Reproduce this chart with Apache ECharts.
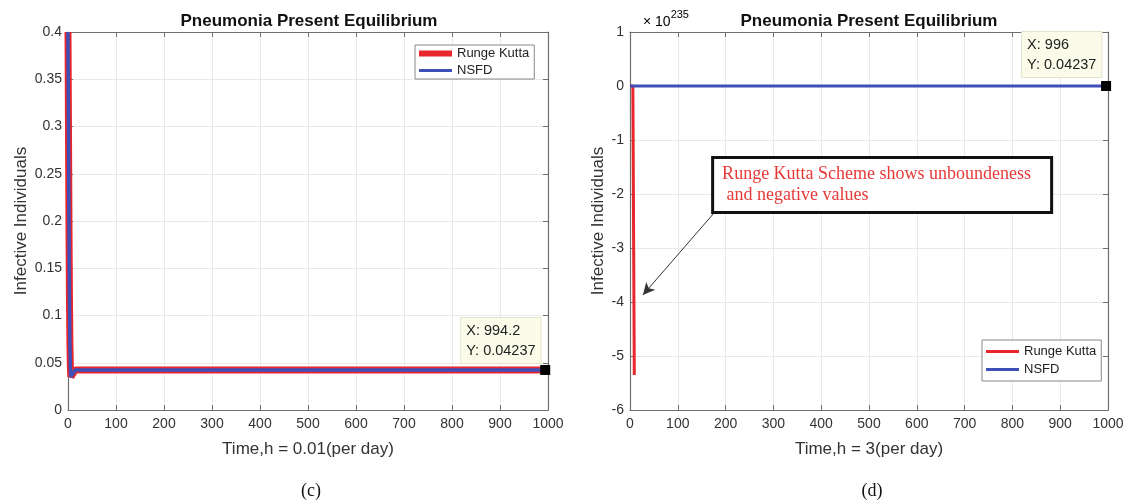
<!DOCTYPE html>
<html>
<head>
<meta charset="utf-8">
<script src="https://cdn.jsdelivr.net/npm/echarts@6/dist/echarts.min.js"></script>
<style>
html,body{margin:0;padding:0;background:#fff;}
#chart{width:1130px;height:502px;}
</style>
</head>
<body>
<div id="chart"></div>
<script>
// ----- Panel (c): h = 0.01 -----
const timeC = [0, 1, 2, 3, 4, 5, 6, 8, 11, 15, 994.2];
const rkC   = [0.4, 0.3, 0.2, 0.12, 0.07, 0.045, 0.035, 0.034, 0.039, 0.0424, 0.04237];
const nsfdC = [0.4, 0.3, 0.2, 0.12, 0.07, 0.045, 0.035, 0.034, 0.039, 0.0424, 0.04237];
const tipC  = [994.2, 0.04237];

// ----- Panel (d): h = 3, values in units of 10^235 -----
const timeRkD = [0, 3, 6, 9];
const rkD     = [0, 0, 0, -5.35];
const timeNsD = [0, 996];
const nsfdD   = [0, 0];
const tipD    = [996, 0.04237];
const arrowFrom = [174, -2.37];
const arrowTo   = [27, -3.87];

const seriesNames = ['Runge Kutta', 'NSFD'];
const titleText = 'Pneumonia Present Equilibrium';

const RED = '#e8262b';
const BLUE = '#3f4fb8';
const AXC = '#6e6e6e';
const font = 'Liberation Sans, Arial, Helvetica, sans-serif';
const serif = 'Liberation Serif, Times New Roman, serif';

function pairs(xs, ys) { return xs.map((x, i) => [x, ys[i]]); }

function xAx(grid, name, pos) {
  const main = pos === 'bottom';
  return {
    type: 'value', gridIndex: grid, position: pos, min: 0, max: 1000, interval: 100,
    name: main ? name : '', nameLocation: 'middle', nameGap: 31,
    nameTextStyle: { fontFamily: font, fontSize: 17, color: '#333' },
    axisLine: { show: true, onZero: false, lineStyle: { color: AXC, width: 1.2 } },
    axisTick: { show: true, inside: true, length: 5, lineStyle: { color: AXC } },
    axisLabel: { show: main, fontFamily: font, fontSize: 14, color: '#333', margin: 7, formatter: v => String(v) },
    splitLine: { show: main, lineStyle: { color: '#e9e9e9', width: 1 } }
  };
}
function yAx(grid, name, pos, min, max, interval, extra) {
  const main = pos === 'left';
  return Object.assign({
    type: 'value', gridIndex: grid, position: pos, min: min, max: max, interval: interval,
    name: main ? name : '', nameLocation: 'middle', nameGap: 40,
    nameTextStyle: { fontFamily: font, fontSize: 17, color: '#333' },
    axisLine: { show: true, onZero: false, lineStyle: { color: AXC, width: 1.2 } },
    axisTick: { show: true, inside: true, length: 5, lineStyle: { color: AXC } },
    axisLabel: { show: main, fontFamily: font, fontSize: 14, color: '#333', margin: 6 },
    splitLine: { show: main, lineStyle: { color: '#e9e9e9', width: 1 } }
  }, extra || {});
}

const tipLabel = (txt, pos) => ({
  show: true, formatter: txt, position: pos,
  fontFamily: font, fontSize: 14.5, color: '#222', lineHeight: 20,
  backgroundColor: '#fbfbea', borderColor: '#e4e4cc', borderWidth: 1, padding: [3, 5, 2, 5]
});

const legendItems = (h0, h1) => [
  { name: seriesNames[0], icon: 'path://M0,0h33v' + h0 + 'h-33z' },
  { name: seriesNames[1], icon: 'path://M0,0h33v' + h1 + 'h-33z' }
];

const chart = echarts.init(document.getElementById('chart'));
chart.setOption({
  animation: false,
  title: [
    { text: titleText, left: 304, top: 8, textAlign: 'center', textStyle: { fontFamily: font, fontSize: 17, fontWeight: 'bold', color: '#111' } },
    { text: titleText, left: 864, top: 8, textAlign: 'center', textStyle: { fontFamily: font, fontSize: 17, fontWeight: 'bold', color: '#111' } },
    { text: '(c)', left: 306, top: 477, textAlign: 'center', textStyle: { fontFamily: serif, fontSize: 18, fontWeight: 'normal', color: '#111' } },
    { text: '(d)', left: 867, top: 477, textAlign: 'center', textStyle: { fontFamily: serif, fontSize: 18, fontWeight: 'normal', color: '#111' } }
  ],
  legend: [
    {
      left: 415, top: 45, orient: 'vertical', itemGap: 4, itemWidth: 33, itemHeight: 14,
      backgroundColor: '#fff', borderColor: '#888', borderWidth: 1, padding: [2, 5, 2, 4],
      textStyle: { fontFamily: font, fontSize: 13, color: '#222' },
      selectedMode: false, symbolKeepAspect: true,
      data: legendItems(6, 3)
    },
    {
      left: 982, top: 340, orient: 'vertical', itemGap: 5, itemWidth: 33, itemHeight: 14,
      backgroundColor: '#fff', borderColor: '#888', borderWidth: 1, padding: [5, 5, 5, 4],
      textStyle: { fontFamily: font, fontSize: 13, color: '#222' },
      selectedMode: false, symbolKeepAspect: true,
      data: legendItems(3, 3)
    }
  ],
  grid: [
    { left: 68, top: 32, width: 480, height: 378 },
    { left: 630, top: 32, width: 478, height: 378 }
  ],
  xAxis: [
    xAx(0, 'Time,h = 0.01(per day)', 'bottom'),
    xAx(1, 'Time,h = 3(per day)', 'bottom'),
    xAx(0, '', 'top'),
    xAx(1, '', 'top')
  ],
  yAxis: [
    yAx(0, 'Infective Individuals', 'left', 0, 0.4, 0.05, { nameGap: 38 }),
    yAx(1, 'Infective Individuals', 'left', -6, 1, 1, { nameGap: 23 }),
    yAx(0, '', 'right', 0, 0.4, 0.05),
    yAx(1, '', 'right', -6, 1, 1)
  ],
  graphic: [
    {
      type: 'text', left: 643, top: 9,
      style: {
        text: '{a|× 10}{b|235}',
        rich: {
          a: { fontFamily: font, fontSize: 14, color: '#333', verticalAlign: 'bottom', padding: [6, 0, 0, 0] },
          b: { fontFamily: font, fontSize: 11, color: '#333', verticalAlign: 'top' }
        }
      }
    }
  ],
  series: [
    {
      name: seriesNames[0], type: 'line', xAxisIndex: 0, yAxisIndex: 0,
      data: pairs(timeC, rkC), symbol: 'none', z: 2,
      lineStyle: { color: RED, width: 7 }, itemStyle: { color: RED }
    },
    {
      name: seriesNames[1], type: 'line', xAxisIndex: 0, yAxisIndex: 0,
      data: pairs(timeC, nsfdC), symbol: 'none', z: 3,
      lineStyle: { color: BLUE, width: 3.5 }, itemStyle: { color: BLUE },
      markPoint: {
        silent: true, symbol: 'rect', symbolSize: 10, itemStyle: { color: '#000' },
        data: [{ coord: tipC, label: tipLabel('X: 994.2\nY: 0.04237', [-79, -47]) }]
      }
    },
    {
      name: seriesNames[0], type: 'line', xAxisIndex: 1, yAxisIndex: 1,
      data: pairs(timeRkD, rkD), symbol: 'none', z: 2,
      lineStyle: { color: RED, width: 3 }, itemStyle: { color: RED },
      markLine: {
        silent: true, symbol: ['none', 'arrow'], symbolSize: [9, 12],
        lineStyle: { color: '#333', width: 1, type: 'solid' }, label: { show: false },
        data: [[{ coord: arrowFrom }, { coord: arrowTo }]]
      },
      markPoint: {
        silent: true, symbol: 'circle', symbolSize: 0.1,
        data: [{
          coord: arrowFrom,
          label: {
            show: true, position: [1, -55],
            formatter: 'Runge Kutta Scheme shows unboundeness\n and negative values',
            fontFamily: serif, fontSize: 18, color: '#e53a37', lineHeight: 21, align: 'left',
            backgroundColor: '#fff', borderColor: '#111', borderWidth: 3,
            padding: [5, 8, 5, 8], width: 320
          }
        }]
      }
    },
    {
      name: seriesNames[1], type: 'line', xAxisIndex: 1, yAxisIndex: 1,
      data: pairs(timeNsD, nsfdD), symbol: 'none', z: 3,
      lineStyle: { color: BLUE, width: 3 }, itemStyle: { color: BLUE },
      markPoint: {
        silent: true, symbol: 'rect', symbolSize: 10, itemStyle: { color: '#000' },
        data: [{ coord: [tipD[0], 0], label: tipLabel('X: 996\nY: 0.04237', [-79, -49]) }]
      }
    }
  ]
});
</script>
</body>
</html>
